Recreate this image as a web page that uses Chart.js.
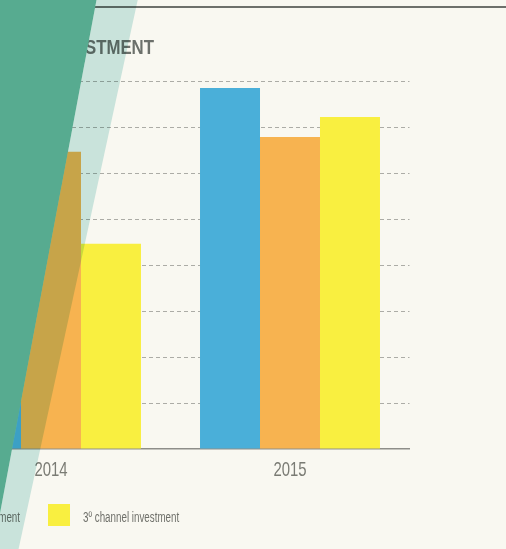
<!DOCTYPE html>
<html>
<head>
<meta charset="utf-8">
<script src="https://cdn.jsdelivr.net/npm/chart.js@4/dist/chart.umd.min.js"></script>
<style>
  html, body { margin: 0; padding: 0; background: #f9f8f1; overflow: hidden; width: 506px; height: 549px; }
  #wrap { position: absolute; left: -200px; top: 0; width: 706px; height: 549px; }
</style>
</head>
<body>
<div id="wrap"><canvas id="c" width="706" height="549"></canvas></div>
<script>
const categories = ['2014', '2015'];
const seriesNames = ['1º channel investment', '2º channel investment', '3º channel investment'];
const channel1 = [5.8, 7.85];
const channel2 = [6.46, 6.78];
const channel3 = [4.46, 7.22];
const seriesColors = ['#4aafd9', '#f7b350', '#f9ef40'];
const titleText = 'INVESTMENT';
const yMax = 8;

const OFF = 200; // canvas offset (page x = canvas x - OFF)
const BG = '#f9f8f1';
const FAM = '"Liberation Sans", Arial, sans-serif';

// draw horizontally condensed text
function narrowText(ctx, text, x, y, sx, align) {
  ctx.save();
  ctx.translate(x, y);
  ctx.scale(sx, 1);
  ctx.textAlign = align;
  ctx.fillText(text, 0, 0);
  ctx.restore();
}

const decor = {
  id: 'decor',
  beforeDraw(chart) {
    const ctx = chart.ctx;
    ctx.save();
    ctx.fillStyle = BG;
    ctx.fillRect(0, 0, chart.width, chart.height);
    ctx.strokeStyle = '#6d706b';
    ctx.lineWidth = 2;
    ctx.beginPath();
    ctx.moveTo(0, 7);
    ctx.lineTo(chart.width, 7);
    ctx.stroke();
    ctx.fillStyle = '#6c706b';
    ctx.font = 'bold 21px ' + FAM;
    ctx.textBaseline = 'alphabetic';
    narrowText(ctx, titleText, OFF + 154, 54, 0.8, 'right');
    ctx.restore();
  },
  afterDatasetsDraw(chart) {
    const ctx = chart.ctx;
    const xs = chart.scales.x;
    ctx.save();
    ctx.fillStyle = '#7a7b74';
    ctx.font = '21px ' + FAM;
    ctx.textBaseline = 'alphabetic';
    xs.ticks.forEach((t, i) => {
      narrowText(ctx, xs.getLabelForValue(t.value), xs.getPixelForTick(i), 476, 0.71, 'center');
    });
    ctx.restore();
  },
  afterDraw(chart) {
    const ctx = chart.ctx;
    ctx.save();
    ctx.font = '14px ' + FAM;
    ctx.textBaseline = 'alphabetic';
    const sx = 0.7;
    const ds = chart.data.datasets;
    let boxX = OFF + 48;
    const boxes = [];
    for (let i = ds.length - 1; i >= 0; i--) {
      boxes[i] = boxX;
      if (i > 0) {
        const wPrev = ctx.measureText(ds[i - 1].label).width * sx;
        boxX = boxX - 28 - wPrev - 35;
      }
    }
    ds.forEach((d, i) => {
      ctx.fillStyle = d.backgroundColor;
      ctx.fillRect(boxes[i], 504, 22, 22);
      ctx.fillStyle = '#6f706a';
      narrowText(ctx, d.label, boxes[i] + 35, 522, sx, 'left');
    });
    ctx.globalCompositeOperation = 'multiply';
    ctx.fillStyle = 'rgb(206,234,232)';
    ctx.beginPath();
    ctx.moveTo(OFF + 96.5, 0);
    ctx.lineTo(OFF + 137.7, 0);
    ctx.lineTo(OFF + 137.7 - 0.217 * 549, 549);
    ctx.lineTo(OFF + 96.5 - 0.188 * 549, 549);
    ctx.closePath();
    ctx.fill();
    ctx.globalCompositeOperation = 'source-over';
    ctx.fillStyle = '#57ab90';
    ctx.beginPath();
    ctx.moveTo(0, 0);
    ctx.lineTo(OFF + 96.5, 0);
    ctx.lineTo(OFF + 96.5 - 0.188 * 549, 549);
    ctx.lineTo(0, 549);
    ctx.closePath();
    ctx.fill();
    ctx.restore();
  }
};

new Chart(document.getElementById('c'), {
  type: 'bar',
  data: {
    labels: categories,
    datasets: [
      { label: seriesNames[0], data: channel1, backgroundColor: seriesColors[0] },
      { label: seriesNames[1], data: channel2, backgroundColor: seriesColors[1] },
      { label: seriesNames[2], data: channel3, backgroundColor: seriesColors[2] }
    ]
  },
  options: {
    responsive: false,
    animation: false,
    devicePixelRatio: 1,
    layout: { padding: { left: 131.5, right: 96.5, top: 81, bottom: 0 } },
    datasets: { bar: { barPercentage: 1, categoryPercentage: 0.753, borderWidth: 0 } },
    plugins: { legend: { display: false }, title: { display: false }, tooltip: { enabled: false } },
    scales: {
      x: {
        grid: { display: false, drawTicks: false },
        border: { display: true, color: '#8e8e89', width: 1.5 },
        ticks: { display: false },
        afterFit(scale) { scale.height = 100; }
      },
      y: {
        min: 0, max: yMax,
        ticks: { display: false, stepSize: 1 },
        border: { display: false, dash: [4, 3] },
        grid: {
          drawTicks: false,
          color: (c) => c.tick && c.tick.value === 0 ? 'rgba(0,0,0,0)' : '#acaca6',
          lineWidth: 1
        },
        afterFit(scale) { scale.width = 0; }
      }
    }
  },
  plugins: [decor]
});
</script>
</body>
</html>
